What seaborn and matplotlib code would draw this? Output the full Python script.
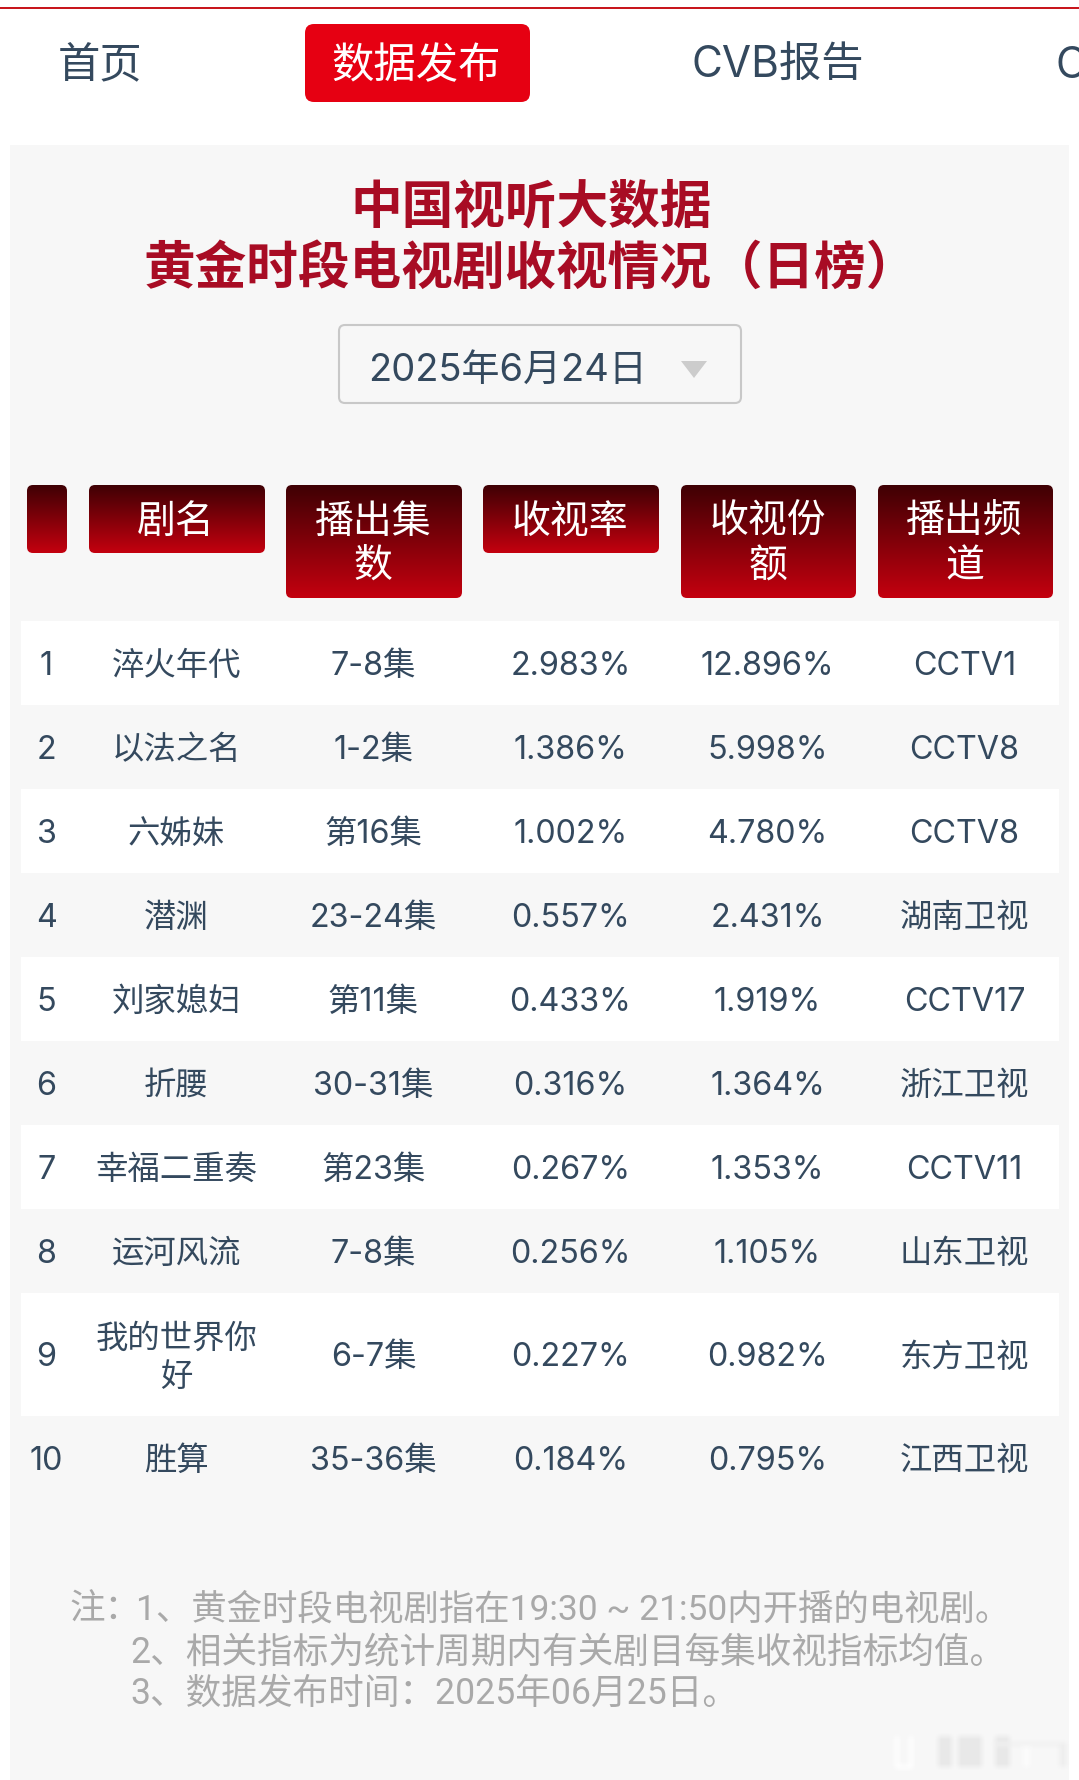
import numpy as np
import pandas as pd
import matplotlib
matplotlib.use("Agg")
import matplotlib.pyplot as plt
from matplotlib.patches import FancyBboxPatch, Rectangle, Polygon
import seaborn as sns

# ---- data ----
ranks = ["1", "2", "3", "4", "5", "6", "7", "8", "9", "10"]
names = ["淬火年代", "以法之名", "六姊妹", "潜渊", "刘家媳妇", "折腰", "幸福二重奏", "运河风流", "我的世界你\n好", "胜算"]
episodes = ["7-8集", "1-2集", "第16集", "23-24集", "第11集", "30-31集", "第23集", "7-8集", "6-7集", "35-36集"]
ratings = ["2.983%", "1.386%", "1.002%", "0.557%", "0.433%", "0.316%", "0.267%", "0.256%", "0.227%", "0.184%"]
shares = ["12.896%", "5.998%", "4.780%", "2.431%", "1.919%", "1.364%", "1.353%", "1.105%", "0.982%", "0.795%"]
channels = ["CCTV1", "CCTV8", "CCTV8", "湖南卫视", "CCTV17", "浙江卫视", "CCTV11", "山东卫视", "东方卫视", "江西卫视"]
headers = ["", "剧名", "播出集\n数", "收视率", "收视份\n额", "播出频\n道"]
nav_items = ["首页", "数据发布", "CVB报告", "C"]
title_lines = ["中国视听大数据", "黄金时段电视剧收视情况（日榜）"]
date_label = "2025年6月24日"
note_prefix = "注："
notes = ["1、黄金时段电视剧指在19:30 ~ 21:50内开播的电视剧。",
         "2、相关指标为统计周期内有关剧目每集收视指标均值。",
         "3、数据发布时间：2025年06月25日。"]

table = pd.DataFrame({"rank": ranks, "name": names, "episodes": episodes,
                      "rating": ratings, "share": shares, "channel": channels})

# ---- style ----
sns.set_theme(style="white")
FONT = ["Inter", "Noto Sans CJK SC", "DejaVu Sans"]
plt.rcParams["font.family"] = FONT
INK = "#34495e"
W, H = 1079, 1781
fig = plt.figure(figsize=(W / 100, H / 100), dpi=100, facecolor="white")
ax = fig.add_axes([0, 0, 1, 1])

# page furniture
ax.add_patch(Rectangle((0, 8), W, 2, fc="#c8161d", ec="none", zorder=1))
ax.add_patch(Rectangle((10, 146), 1059, H - 146, fc="#f7f7f7", ec="none", zorder=0))

# nav
ax.add_patch(FancyBboxPatch((305, 25), 225, 78, boxstyle="round,pad=0,rounding_size=9",
                            fc="#e60012", ec="none", zorder=1))
for label, x, ha, col in zip(nav_items, [100, 416, 778, 1056],
                             ["center", "center", "center", "left"],
                             [INK, "white", INK, INK]):
    ax.text(x, 66.5, label, ha=ha, va="center", fontsize=30.5, color=col, zorder=3)

# title
for line, y in zip(title_lines, [207, 268.5]):
    ax.text(531, y, line, ha="center", va="center", fontsize=37.2, fontweight="bold",
            color="#a80c24", family=["Noto Sans CJK SC", "DejaVu Sans"], zorder=3)

# date selector
ax.add_patch(FancyBboxPatch((339, 326), 402, 78, boxstyle="round,pad=0,rounding_size=6",
                            fc="#f7f7f7", ec="#c8c8c8", lw=1.5, zorder=1))
ax.text(368, 370.5, date_label, ha="left", va="center", fontsize=27.4, color=INK, zorder=3)
ax.add_patch(Polygon([(681, 362), (707, 362), (694, 379)], closed=True, fc="#cccccc", ec="none", zorder=2))

# header cells with gradient
grad_cmap = sns.blend_palette(["#3f0004", "#c4000f"], as_cmap=True)
hdr_x0 = [27, 89, 286, 483, 681, 878]
hdr_x1 = [67, 265, 462, 659, 856, 1053]
grad = np.linspace(0, 1, 128).reshape(-1, 1)
for label, x0, x1 in zip(headers, hdr_x0, hdr_x1):
    y0 = 486
    y1 = 599 if "\n" in label else 554
    box = FancyBboxPatch((x0, y0), x1 - x0, y1 - y0, boxstyle="round,pad=0,rounding_size=6",
                         fc="none", ec="none", zorder=2)
    ax.add_patch(box)
    im = ax.imshow(grad, extent=(x0, x1, y1, y0), cmap=grad_cmap, aspect="auto", zorder=2)
    im.set_clip_path(box)
    for i, part in enumerate(label.split("\n")):
        if part:
            ax.text((x0 + x1) / 2 - 1, 522 + 45 * i, part, ha="center", va="center",
                    fontsize=28, color="white", zorder=3)

# rows
col_x = [47, 177, 374, 571, 768, 965]
row_h = [84, 84, 84, 84, 84, 84, 84, 84, 123, 84]
row_top = 622 + np.r_[0, np.cumsum(row_h)[:-1]]
for i, (_, row) in enumerate(table.iterrows()):
    top, h = row_top[i], row_h[i]
    mid = top + h / 2 + 2.5
    if i % 2 == 0:
        ax.add_patch(Rectangle((21, top), 1038, h, fc="white", ec="none", zorder=1))
    for col, x in zip(table.columns, col_x):
        parts = row[col].split("\n")
        for j, part in enumerate(parts):
            y = mid + (j - (len(parts) - 1) / 2) * 38
            ax.text(x - 0.5, y, part, ha="center", va="center", fontsize=23.3, color=INK, zorder=3)

# notes
NOTE_FONT = ["Roboto", "Noto Sans CJK SC", "DejaVu Sans"]
ax.text(69, 1610, note_prefix, ha="left", va="center", fontsize=25.6, color="#a9a9a9",
        family=NOTE_FONT, zorder=3)
for line, x, y, fs in zip(notes, [136, 130, 130], [1610, 1652, 1694], [25.5, 25.7, 25.7]):
    ax.text(x, y, line, ha="left", va="center", fontsize=fs, color="#a9a9a9",
            family=NOTE_FONT, zorder=3)

# faint blurred watermark, bottom right (light grey bars, white outline)
wm = np.zeros((60, 190))
for x0, x1, y0, y1, amp in [(54, 68, 19, 50, 1.0), (74, 98, 19, 50, 1.0), (111, 126, 19, 50, 1.0),
                            (109, 183, 25, 29, 0.5), (11, 15, 19, 50, -1.0), (25, 29, 19, 50, -1.0),
                            (11, 29, 48, 52, -1.0), (139, 146, 30, 50, -0.6), (175, 183, 25, 50, 0.6)]:
    wm[y0:y1, x0:x1] = amp
kernel = np.ones(7) / 7
wm = np.apply_along_axis(lambda v: np.convolve(v, kernel, mode="same"), 1, wm)
wm = np.apply_along_axis(lambda v: np.convolve(v, kernel, mode="same"), 0, wm)
rgba = np.zeros(wm.shape + (4,))
rgba[..., :3] = (wm < 0)[..., None] * 1.0
rgba[..., 3] = np.where(wm < 0, np.abs(wm) * 1.0, wm * 0.06)
ax.imshow(rgba, extent=(884, 1074, 1778, 1718), aspect="auto", interpolation="bilinear", zorder=2)

ax.set_xlim(0, W)
ax.set_ylim(H, 0)
ax.axis("off")
sns.despine(ax=ax, left=True, bottom=True)
fig.savefig("out.png", dpi=100, facecolor="white")
